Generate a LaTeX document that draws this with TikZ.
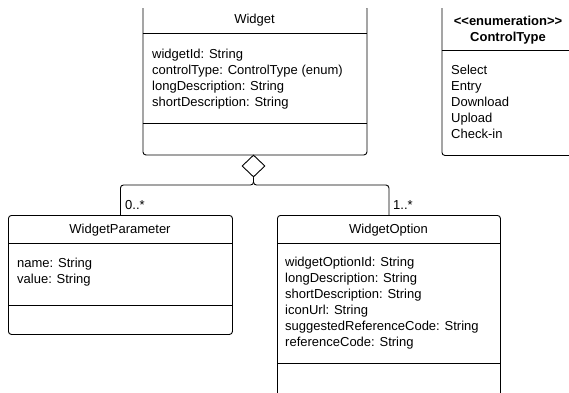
\documentclass[tikz,border=0pt]{standalone}
\usepackage{fontspec}
\setmainfont{Liberation Sans}
\usetikzlibrary{shapes.geometric}
\tikzset{
  umlbox/.style={draw=black, line width=0.9pt, rounded corners=3pt, fill=none, inner sep=0pt, anchor=north west},
  sepline/.style={draw=black, line width=0.9pt},
  conn/.style={draw=black, line width=0.9pt, rounded corners=3pt},
  txt/.style={inner sep=0pt, font=\fontsize{13}{16}\selectfont, text=black},
  attr/.style={txt, anchor=base west},
  ttl/.style={txt, anchor=base},
  btl/.style={txt, anchor=base, font=\fontsize{13}{16}\selectfont\bfseries},
  agg/.style={diamond, draw=black, line width=0.9pt, fill=white, inner sep=0pt, minimum width=23pt, minimum height=22pt}
}
\begin{document}
\begin{tikzpicture}[x=1pt,y=-1pt]
\useasboundingbox (0,0) rectangle (569,392);
\begin{scope}
\clip (0,8) rectangle (569,392);
% Widget
\node[umlbox, minimum width=224pt, minimum height=150pt] (W) at (142.5,4.5) {};
\draw[sepline] (142.5,33.5) -- (366.5,33.5);
\draw[sepline] (142.5,123.5) -- (366.5,123.5);
\node[ttl] (wt) at (254.5,23) {Widget};
\node[attr] (wa1) at (152,58) {widgetId: String};
\node[attr] (wa2) at (152,74) {controlType: ControlType (enum)};
\node[attr] (wa3) at (152,90) {longDescription: String};
\node[attr] (wa4) at (152,106) {shortDescription: String};
% ControlType
\node[umlbox, minimum width=134pt, minimum height=150.5pt] (CT) at (441.5,4.5) {};
\draw[sepline] (441.5,50.5) -- (575.5,50.5);
\node[btl] (ct1) at (508,25) {{<}{<}enumeration{>}{>}};
\node[btl] (ct2) at (508,41) {ControlType};
\node[attr] (ci1) at (451,74) {Select};
\node[attr] (ci2) at (451,90) {Entry};
\node[attr] (ci3) at (451,106) {Download};
\node[attr] (ci4) at (451,122) {Upload};
\node[attr] (ci5) at (451,138) {Check-in};
% WidgetParameter
\node[umlbox, minimum width=224pt, minimum height=119pt] (WP) at (8,215) {};
\draw[sepline] (8,243) -- (232,243);
\draw[sepline] (8,305) -- (232,305);
\node[ttl] (pt) at (120,233) {WidgetParameter};
\node[attr] (pa1) at (17,267) {name: String};
\node[attr] (pa2) at (17,283) {value: String};
% WidgetOption
\node[umlbox, minimum width=223pt, minimum height=190pt] (WO) at (277,215) {};
\draw[sepline] (277,363) -- (500,363);
\draw[sepline] (277,243) -- (500,243);
\node[ttl] (ot) at (388.5,233) {WidgetOption};
\node[attr] (oa1) at (285,266) {widgetOptionId: String};
\node[attr] (oa2) at (285,282) {longDescription: String};
\node[attr] (oa3) at (285,298) {shortDescription: String};
\node[attr] (oa4) at (285,314) {iconUrl: String};
\node[attr] (oa5) at (285,330) {suggestedReferenceCode: String};
\node[attr] (oa6) at (285,346) {referenceCode: String};
% aggregation
\node[agg] (dia) at (253.5,166) {};
\coordinate (j) at (253.5,185);
\draw[conn] (dia.south) -- (j) -| (WP.north);
\draw[conn] (dia.south) -- (j) -| (WO.north);
\node[attr] (m1) at (125,209) {0..*};
\node[attr] (m2) at (393,209) {1..*};
\end{scope}
\end{tikzpicture}
\end{document}
